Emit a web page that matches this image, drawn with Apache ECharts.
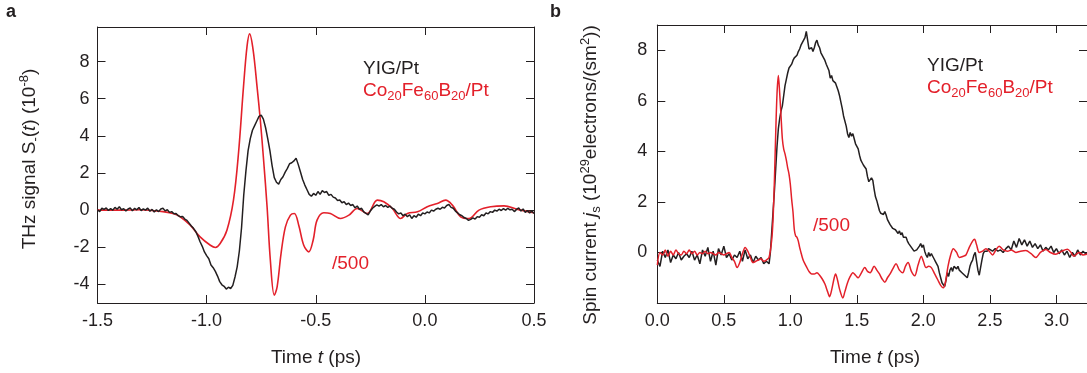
<!DOCTYPE html>
<html>
<head>
<meta charset="utf-8">
<script src="https://cdn.jsdelivr.net/npm/echarts@6/dist/echarts.min.js"></script>
<style>
html,body{margin:0;padding:0;background:#fff;}
#chart{width:1087px;height:373px;}
</style>
</head>
<body>
<div id="chart"></div>
<script>
// ---------- DATA ----------
// Panel a: x ticks / y ticks
const aXTicks = [-1.5, -1.0, -0.5, 0.0, 0.5];
const aYTicks = [-4, -2, 0, 2, 4, 6, 8];
const bXTicks = [0.0, 0.5, 1.0, 1.5, 2.0, 2.5, 3.0];
const bYTicks = [0, 2, 4, 6, 8];

// Panel a, YIG/Pt (black), sampled every 0.01 ps from -1.50 ps
const aBlackStart = -1.5, aBlackStep = 0.01;
const aBlackV = [
  0.02,-0.08,0.10,0.04,0.12,-0.02,0.08,0.00,0.15,0.05,
  0.18,0.02,0.08,-0.05,0.06,0.12,-0.04,0.10,0.02,0.14,
  -0.03,0.07,0.00,0.11,-0.06,0.04,-0.10,0.02,-0.08,0.06,
  0.10,-0.04,0.02,-0.12,-0.08,-0.20,-0.18,-0.30,-0.36,-0.34,
  -0.48,-0.55,-0.70,-0.85,-0.98,-1.15,-1.40,-1.70,-1.95,-2.25,
  -2.45,-2.62,-2.95,-3.10,-3.30,-3.55,-3.85,-4.02,-4.10,-4.25,
  -4.15,-4.22,-4.05,-3.60,-3.05,-2.20,-0.95,0.80,2.10,3.20,
  3.85,4.30,4.55,4.80,5.05,5.12,4.90,4.45,3.85,3.20,
  2.40,1.75,1.50,1.40,1.65,1.80,2.05,2.25,2.50,2.55,
  2.65,2.80,2.45,2.05,1.65,1.35,1.10,0.85,0.75,0.90,
  0.80,1.00,0.85,1.05,0.95,1.00,0.80,0.85,0.70,0.65,
  0.52,0.55,0.40,0.45,0.30,0.38,0.25,0.30,0.12,0.22,
  0.05,0.10,-0.10,-0.18,-0.25,-0.05,0.10,0.20,0.28,0.22,
  0.30,0.18,0.25,0.15,0.22,0.10,0.05,-0.10,-0.20,-0.15,
  -0.30,-0.22,-0.35,-0.25,-0.45,-0.30,-0.38,-0.22,-0.30,-0.15,
  -0.20,-0.10,-0.15,0.00,-0.05,0.05,0.10,0.05,0.15,0.12,
  0.25,0.30,0.15,0.10,-0.05,-0.15,-0.25,-0.30,-0.40,-0.45,
  -0.55,-0.50,-0.42,-0.48,-0.35,-0.38,-0.25,-0.30,-0.15,-0.20,
  -0.08,-0.12,0.00,-0.05,0.05,-0.02,0.08,0.00,0.10,0.02,
  0.05,-0.08,0.04,0.12,-0.05,0.06,-0.12,-0.02,-0.15,-0.05,-0.18
];

// Panel a, Co20Fe60B20/Pt (red, /500)
const aRedT = [-1.50,-1.40,-1.30,-1.25,-1.20,-1.15,-1.121,-1.075,-1.03,-0.983,-0.96,-0.938,-0.907,-0.877,-0.854,-0.831,-0.815,-0.803,-0.787,-0.769,-0.754,-0.739,-0.723,-0.708,-0.69,-0.677,-0.659,-0.639,-0.616,-0.598,-0.578,-0.555,-0.532,-0.512,-0.494,-0.463,-0.433,-0.387,-0.348,-0.31,-0.264,-0.218,-0.188,-0.149,-0.111,-0.08,-0.034,0.011,0.057,0.095,0.126,0.164,0.202,0.248,0.302,0.363,0.425,0.5];
const aRedV = [0,0,0.02,-0.02,-0.08,-0.2,-0.36,-0.81,-1.44,-1.89,-2.01,-1.80,-1.08,0.54,3.06,6.65,8.8,9.49,8.63,6.65,4.85,2.7,0.18,-2.7,-4.58,-4.13,-2.34,-0.9,-0.27,-0.18,-0.81,-1.89,-2.25,-1.62,-0.54,-0.14,-0.18,-0.45,-0.27,0.09,-0.18,0.54,0.45,0.09,-0.45,-0.18,-0.09,0.18,0.36,0.54,0.27,-0.36,-0.45,0,0.18,0.23,0.04,-0.14];

// Panel b, YIG/Pt (black): three uniformly sampled segments
const bBlackPreStart = 0.0, bBlackPreStep = 0.02;
const bBlackPre = [-0.30,-0.55,0.05,-0.20,0.10,-0.40,-0.10,-0.25,0.00,-0.30,-0.15,-0.05,-0.20,0.05,-0.30,-0.10,-0.45,0.10,-0.15,0.20,-0.35,0.05,-0.50,0.15,-0.10,0.25,-0.20,-0.05,-0.30,-0.10,-0.20,0.05,-0.35,0.10,-0.25,-0.10,-0.40,-0.15,-0.30,-0.20,-0.45,-0.35,-0.45];
const bBlackMainStart = 0.85, bBlackMainStep = 0.01;
const bBlackMain = [
  0.0,0.8,1.6,2.4,3.3,4.2,4.9,5.3,5.6,5.8,
  6.2,6.6,6.85,7.1,7.3,7.35,7.45,7.6,7.7,7.75,
  7.8,7.95,8.05,8.2,8.3,8.25,8.5,8.75,8.4,8.05,
  8.0,8.1,7.95,8.1,8.3,8.4,8.2,8.1,7.9,7.95,
  7.7,7.6,7.45,7.5,7.2,6.9,7.0,6.8,6.85,6.7,
  6.55,6.4,6.2,5.95,5.7,5.4,5.35,5.0,4.7,4.55,
  4.75,4.6,4.7,4.5,4.3,4.25,4.1,3.85,3.65,3.55,
  3.45,3.4,3.3,3.0,2.8,2.75,2.95,2.85,2.5,2.2,
  2.05,1.85,1.65,1.55,1.6,1.5,1.62,1.48,1.3,1.25,
  1.1,1.15,0.95,1.0,0.9,0.85,0.75,0.85,0.7,0.78,
  0.6,0.55,0.6,0.45,0.35,0.3,0.2,0.15,0.05,0.0,
  0.1,0.05,0.25,0.35,0.2,0.3,0.05,-0.1,-0.2,0.0,
  -0.15,-0.05,-0.15,-0.25,-0.35,-0.45,-0.55,-0.8,-1.0,-1.2,
  -1.25,-1.35,-1.1,-0.8,-0.95,-0.7,-0.6,-0.75,-0.55,-0.5,
  -0.65,-0.55,-0.7,-0.75,-0.8,-0.85,-0.9,-0.95,-1.0,-0.8,
  -0.55,-0.4,-0.3,-0.1,0.0,-0.35,-0.7,-0.9,-0.6,-0.3,
  -0.05,0.05,0.1,0.05,0.15,0.1
];
const bBlackPostStart = 2.52, bBlackPostStep = 0.02;
const bBlackPost = [0.05,0.15,0.05,0.1,0.0,0.15,0.25,0.1,0.45,0.2,0.55,0.3,0.5,0.25,0.45,0.2,0.35,0.15,0.3,0.05,0.2,0.1,0.25,0.0,0.15,-0.05,0.1,-0.1,0.05,-0.2,0.0,-0.15,0.1,-0.1,0.05,-0.05,0.0];

// Panel b, Co20Fe60B20/Pt (red, /500)
const bRedT = [0.00,0.02,0.04,0.06,0.08,0.10,0.12,0.14,0.16,0.18,0.20,0.22,0.24,0.26,0.28,0.30,0.32,0.34,0.36,0.38,0.40,0.42,0.44,0.46,0.48,0.50,0.52,0.54,0.56,0.58,0.60,0.62,0.64,0.66,0.68,0.70,0.72,0.74,0.76,0.78,0.80,0.82,0.84,0.86,0.87,0.88,0.89,0.90,0.91,0.92,0.93,0.94,0.95,0.96,0.97,0.98,0.99,1.00,1.01,1.02,1.03,1.04,1.05,1.06,1.07,1.08,1.09,1.10,1.12,1.14,1.16,1.18,1.20,1.22,1.24,1.26,1.28,1.295,1.31,1.33,1.34,1.355,1.37,1.395,1.41,1.43,1.45,1.47,1.49,1.51,1.53,1.56,1.58,1.60,1.63,1.65,1.67,1.69,1.71,1.73,1.75,1.77,1.795,1.82,1.845,1.865,1.885,1.91,1.935,1.96,1.985,2.00,2.02,2.04,2.06,2.085,2.11,2.13,2.15,2.165,2.185,2.205,2.225,2.25,2.27,2.30,2.32,2.345,2.37,2.385,2.40,2.42,2.445,2.47,2.495,2.52,2.545,2.57,2.60,2.633,2.66,2.695,2.73,2.77,2.81,2.845,2.88,2.92,2.955,2.995,3.04,3.083,3.11,3.13,3.17,3.20,3.24];
const bRedV = [-0.50,0.0,-0.1,0.1,-0.15,0.05,-0.1,0.1,-0.05,-0.1,0.05,-0.05,0.1,-0.05,0.05,-0.1,0.0,-0.05,0.05,-0.05,0.0,-0.05,-0.1,0.0,-0.05,-0.1,-0.05,0.0,-0.2,-0.35,-0.6,-0.4,-0.05,0.2,0.05,-0.2,-0.4,-0.35,-0.3,-0.25,-0.35,-0.3,-0.2,0.5,1.3,2.8,4.7,6.3,7.0,6.3,5.4,4.5,4.1,3.9,3.65,3.35,3.1,2.7,2.1,1.6,0.9,0.65,0.6,0.45,0.2,0.0,-0.2,-0.35,-0.55,-0.75,-0.85,-0.85,-0.8,-0.9,-1.05,-1.25,-1.55,-1.75,-1.5,-1.0,-0.85,-1.1,-1.45,-1.8,-1.55,-1.2,-0.95,-0.8,-0.9,-1.0,-0.85,-0.6,-0.75,-0.8,-0.55,-0.7,-0.85,-1.05,-1.18,-1.0,-0.85,-0.65,-0.45,-0.7,-0.8,-0.55,-0.4,-0.75,-0.92,-0.5,-0.15,-0.35,-0.6,-0.55,-0.6,-0.85,-1.1,-1.3,-1.4,-1.2,-0.55,-0.1,0.15,0.0,-0.2,-0.15,-0.1,0.2,0.45,0.52,0.3,0.0,0.05,0.15,0.05,-0.1,0.1,0.25,0.1,0.05,0.1,0.0,0.05,0.08,-0.05,-0.2,0.0,0.12,0.0,-0.07,0.05,0.13,0.0,-0.15,0.0,-0.1,-0.05];

// ---------- BUILD ----------
const BLACK = '#231f20', RED = '#e3202a';
const FONT = '"Liberation Sans", Arial, Helvetica, sans-serif';

function uniform(start, step, vals) { return vals.map((v, i) => [+(start + i * step).toFixed(4), v]); }
function pairs(ts, vs) { return ts.map((t, i) => [t, vs[i]]); }

const aBlack = uniform(aBlackStart, aBlackStep, aBlackV);
const aRed = pairs(aRedT, aRedV);
const bBlack = uniform(bBlackPreStart, bBlackPreStep, bBlackPre)
  .concat(uniform(bBlackMainStart, bBlackMainStep, bBlackMain))
  .concat(uniform(bBlackPostStart, bBlackPostStep, bBlackPost));
const bRed = pairs(bRedT, bRedV);

const lineStyleAxis = { color: BLACK, width: 1 };
function xAxis(grid, min, max, ticks, pos, showLabel) {
  return {
    type: 'value', gridIndex: grid, position: pos, min: min, max: max,
    splitLine: { show: false },
    axisLine: { show: true, onZero: false, lineStyle: lineStyleAxis },
    axisTick: { show: true, inside: true, length: 8, customValues: ticks, lineStyle: lineStyleAxis },
    axisLabel: { show: showLabel, customValues: ticks, margin: 9, color: BLACK, fontSize: 18, fontFamily: FONT,
      formatter: v => v.toFixed(1) }
  };
}
function yAxis(grid, min, max, ticks, pos, showLabel, margin) {
  return {
    type: 'value', gridIndex: grid, position: pos, min: min, max: max,
    splitLine: { show: false },
    axisLine: { show: true, onZero: false, lineStyle: lineStyleAxis },
    axisTick: { show: true, inside: true, length: 8, customValues: ticks, lineStyle: lineStyleAxis },
    axisLabel: { show: showLabel, customValues: ticks, margin: margin, color: BLACK, fontSize: 18, fontFamily: FONT,
      formatter: v => String(Math.round(v)) }
  };
}

const txt = { fontSize: 19, fontFamily: FONT, fill: BLACK, lineHeight: 24 };
const richBase = (color) => ({
  n: { fontSize: 19, fontFamily: FONT, fill: color, lineHeight: 24 },
  i: { fontSize: 19, fontFamily: FONT, fill: color, fontStyle: 'italic', lineHeight: 24 },
  sub: { fontSize: 13, fontFamily: FONT, fill: color, verticalAlign: 'bottom', lineHeight: 24, padding: [0, 0, 0, 0] },
  sup: { fontSize: 13, fontFamily: FONT, fill: color, verticalAlign: 'top', lineHeight: 24 }
});

function label(x, y, text, color, rich, rot, align) {
  return {
    type: 'text', x: x, y: y, rotation: rot || 0,
    style: {
      text: text, rich: rich || richBase(color), fill: color,
      font: '19px ' + FONT,
      align: align || 'center', verticalAlign: 'middle',
      textAlign: align || 'center', textVerticalAlign: 'middle'
    }
  };
}

const chart = echarts.init(document.getElementById('chart'), null, { renderer: 'canvas' });
chart.setOption({
  backgroundColor: '#ffffff',
  animation: false,
  grid: [
    { left: 97.5, top: 27, width: 436.5, height: 276 },
    { left: 657.3, top: 25, width: 430.7, height: 278 }
  ],
  xAxis: [
    xAxis(0, -1.5, 0.5, aXTicks, 'bottom', true),
    xAxis(0, -1.5, 0.5, aXTicks, 'top', false),
    xAxis(1, 0, 3.23, bXTicks, 'bottom', true),
    xAxis(1, 0, 3.23, bXTicks, 'top', false)
  ],
  yAxis: [
    yAxis(0, -5, 9.86, aYTicks, 'left', true, 8),
    yAxis(0, -5, 9.86, aYTicks, 'right', false, 8),
    yAxis(1, -2, 9, bYTicks, 'left', true, 10),
    yAxis(1, -2, 9, bYTicks, 'right', false, 10)
  ],
  series: [
    { type: 'line', name: 'aRed', xAxisIndex: 0, yAxisIndex: 0, data: aRed, smooth: 0.35, showSymbol: false,
      lineStyle: { color: RED, width: 1.6 }, z: 2 },
    { type: 'line', name: 'aBlack', xAxisIndex: 0, yAxisIndex: 0, data: aBlack, showSymbol: false,
      lineStyle: { color: BLACK, width: 1.5 }, z: 3 },
    { type: 'line', name: 'bBlack', xAxisIndex: 2, yAxisIndex: 2, data: bBlack, showSymbol: false,
      lineStyle: { color: BLACK, width: 1.5 }, z: 2 },
    { type: 'line', name: 'bRed', xAxisIndex: 2, yAxisIndex: 2, data: bRed, smooth: 0.3, showSymbol: false,
      lineStyle: { color: RED, width: 1.5 }, z: 3 }
  ],
  graphic: [
    { type: 'text', x: 6, y: 3, style: { text: 'a', font: 'bold 18px ' + FONT, fill: BLACK } },
    { type: 'text', x: 550, y: 3, style: { text: 'b', font: 'bold 18px ' + FONT, fill: BLACK } },
    label(316, 358, '{n|Time }{i|t}{n| (ps)}', BLACK),
    label(875, 358, '{n|Time }{i|t}{n| (ps)}', BLACK),
    label(30, 159, '{n|THz signal S}{sub|-}{n|(}{i|t}{n|) (10}{sup|-8}{n|)}', BLACK, null, Math.PI / 2),
    label(591, 175, '{n|Spin current }{i|j}{sub|s}{n| (10}{sup|29}{n|electrons/(sm}{sup|2}{n|))}', BLACK, null, Math.PI / 2),
    label(363, 69, '{n|YIG/Pt}', BLACK, null, 0, 'left'),
    label(363, 91, '{n|Co}{sub|20}{n|Fe}{sub|60}{n|B}{sub|20}{n|/Pt}', RED, null, 0, 'left'),
    label(927, 66, '{n|YIG/Pt}', BLACK, null, 0, 'left'),
    label(927, 88, '{n|Co}{sub|20}{n|Fe}{sub|60}{n|B}{sub|20}{n|/Pt}', RED, null, 0, 'left'),
    label(332, 264, '{n|/500}', RED, null, 0, 'left'),
    label(813, 226, '{n|/500}', RED, null, 0, 'left')
  ]
});
</script>
</body>
</html>
